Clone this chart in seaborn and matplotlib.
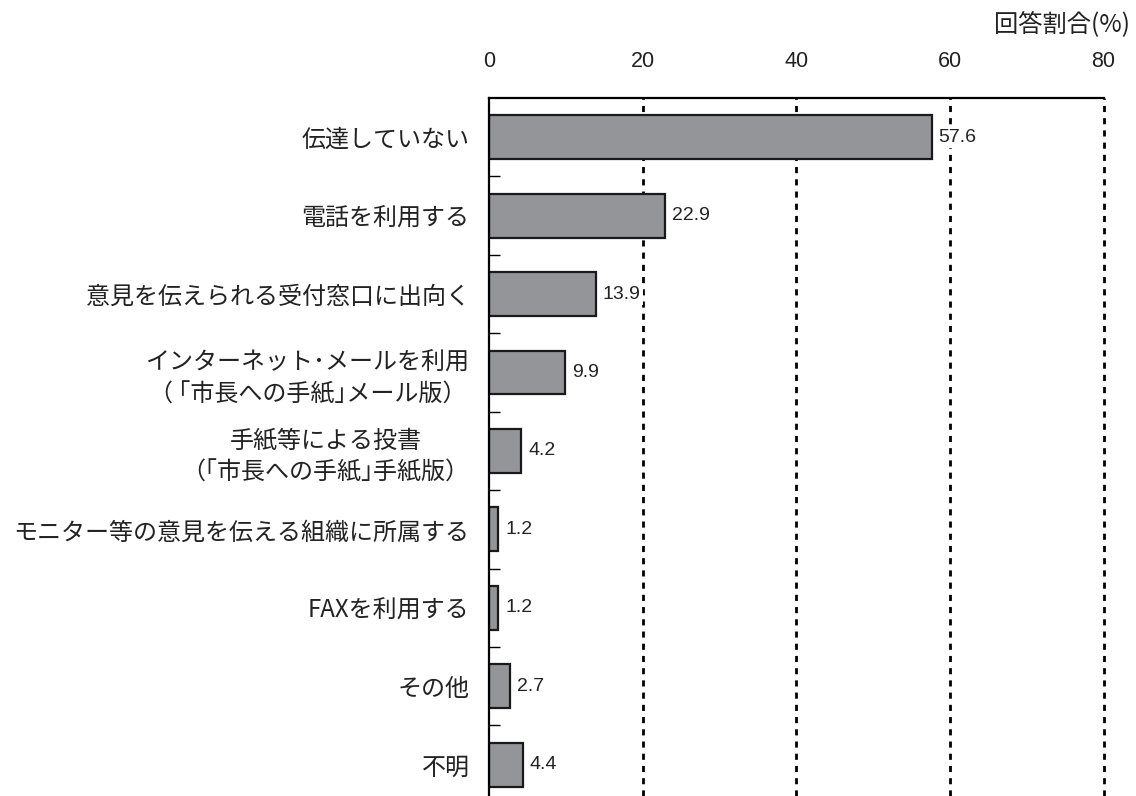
import matplotlib
matplotlib.use("Agg")
import matplotlib.pyplot as plt
import seaborn as sns
import pandas as pd
import numpy as np

categories = [
    "伝達していない",
    "電話を利用する",
    "意見を伝えられる受付窓口に出向く",
    "インターネット･メールを利用\n（ ｢市長への手紙｣メール版）",
    "手紙等による投書\n（｢市長への手紙｣手紙版）",
    "モニター等の意見を伝える組織に所属する",
    "FAXを利用する",
    "その他",
    "不明",
]
values = [57.6, 22.9, 13.9, 9.9, 4.2, 1.2, 1.2, 2.7, 4.4]
x_ticks = [0, 20, 40, 60, 80]
x_label = "回答割合(%)"

sns.set_theme(style="white")
plt.rcParams["font.family"] = ["Noto Sans CJK JP", "DejaVu Sans"]
num_font = ["Liberation Sans", "DejaVu Sans"]

df = pd.DataFrame({"category": categories, "value": values})

fig = plt.figure(figsize=(11.36, 7.96), dpi=100)
ax = fig.add_axes([0.4305, 0.0, 0.541, 0.8769])

sns.barplot(data=df, x="value", y="category", ax=ax, color="#939598",
            edgecolor="#1a1a1a", linewidth=1.6, width=0.56, saturation=1)

ax.set_xlim(0, 80)
ax.set_ylim(8.4, -0.5)

# dotted reference lines at each major step
for xv in x_ticks[1:]:
    ax.axvline(xv, color="black", linestyle=(0, (2.2, 2.2)), linewidth=2.0,
               zorder=0, clip_on=False)

# value labels to the right of bars, masking the grid behind them
for i, v in enumerate(values):
    ax.annotate(f"{v:.1f}", xy=(v, i), xytext=(5, 0), textcoords="offset points",
                va="center", ha="left", fontsize=14, family=num_font,
                color="#222222", zorder=5,
                bbox=dict(facecolor="white", edgecolor="none", pad=1.5))

ax.xaxis.tick_top()
ax.set_xticks(x_ticks)
ax.set_xticklabels([str(t) for t in x_ticks], family=num_font, fontsize=15.5,
                   color="#222222")
ax.tick_params(axis="x", length=0, pad=19)
ax.set_xlabel("")
ax.set_ylabel("")

ax.set_yticks(range(len(categories)))
ax.set_yticklabels(categories, fontsize=17.3, linespacing=1.3, color="#222222")
for lbl in ax.get_yticklabels():
    lbl.set_horizontalalignment("right")
    lbl.set_multialignment("center")
ax.tick_params(axis="y", length=0, pad=14)

# short inward ticks at category boundaries
ax.set_yticks(np.arange(0.5, len(categories) - 0.5, 1.0), minor=True)
ax.tick_params(axis="y", which="minor", direction="in", length=8, width=1.0,
               color="black", left=True)

for side in ["bottom", "right"]:
    ax.spines[side].set_visible(False)
for side in ["top", "left"]:
    ax.spines[side].set_visible(True)
    ax.spines[side].set_color("black")
    ax.spines[side].set_linewidth(1.6)

fig.text(0.995, 0.970, x_label, ha="right", va="center", fontsize=17.5,
         color="#222222")

fig.savefig("out.png", dpi=100)
